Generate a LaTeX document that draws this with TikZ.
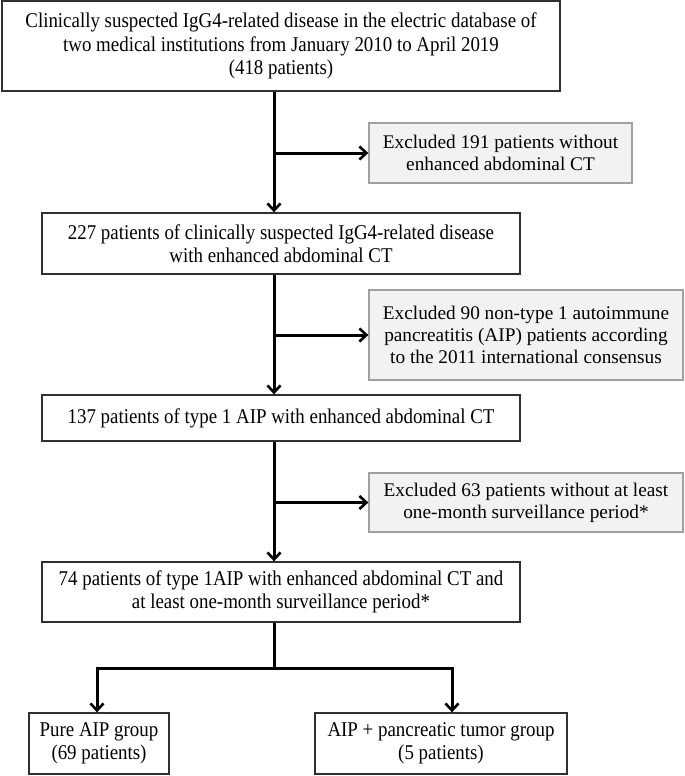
\documentclass[tikz,border=0pt]{standalone}
\usepackage{fontspec}
\setmainfont{Liberation Serif}
\newfontfamily\condfont{Liberation Serif}[FakeStretch=0.9]
\usetikzlibrary{arrows.meta}
\definecolor{greyfill}{HTML}{F2F2F2}
\definecolor{greyline}{HTML}{A0A0A0}
\definecolor{boxline}{HTML}{303030}
\begin{document}
\begin{tikzpicture}[x=1pt,y=-1pt,
  mainbox/.style={draw=boxline,line width=1.3pt,fill=white,align=center,inner sep=0pt,
    font=\condfont\fontsize{21}{23.2}\selectfont},
  exclbox/.style={draw=greyline,line width=1.3pt,fill=greyfill,align=center,inner sep=0pt,
    font=\fontsize{19.3}{22}\selectfont},
  flow/.style={line width=3pt,-{Straight Barb[length=7pt,width=13pt,line width=2.6pt]}},
  plain/.style={line width=3pt}]
\useasboundingbox (0,0) rectangle (685,776);
\coordinate (t) at (274,0);

\node[mainbox,minimum width=558pt,minimum height=90pt] (b1) at (281,46)
  {Clinically suspected IgG4-related disease in the electric database of\\
   two medical institutions from January 2010 to April 2019\\
   (418 patients)};
\node[exclbox,minimum width=263pt,minimum height=60pt] (g1) at (500.5,153)
  {Excluded 191 patients without\\enhanced abdominal CT};
\node[mainbox,minimum width=478pt,minimum height=61pt] (b2) at (281,243.5)
  {227 patients of clinically suspected IgG4-related disease\\
   with enhanced abdominal CT};
\node[exclbox,minimum width=314pt,minimum height=90pt] (g2) at (526,335)
  {Excluded 90 non-type 1 autoimmune\\
   pancreatitis (AIP) patients according\\
   to the 2011 international consensus};
\node[mainbox,minimum width=478pt,minimum height=46pt] (b3) at (281,418)
  {137 patients of type 1 AIP with enhanced abdominal CT};
\node[exclbox,minimum width=314pt,minimum height=59pt] (g3) at (526,502.5)
  {Excluded 63 patients without at least\\one-month surveillance period*};
\node[mainbox,minimum width=478pt,minimum height=60pt] (b4) at (281,592)
  {74 patients of type 1AIP with enhanced abdominal CT and\\
   at least one-month surveillance period*};
\node[mainbox,minimum width=140pt,minimum height=61pt] (p1) at (99,743.5)
  {Pure AIP group\\(69 patients)};
\node[mainbox,minimum width=252pt,minimum height=61pt] (p2) at (441,743.5)
  {AIP + pancreatic tumor group\\(5 patients)};

\draw[flow] (b1.south -| t) -- (b2.north -| t);
\draw[flow] (b2.south -| t) -- (b3.north -| t);
\draw[flow] (b3.south -| t) -- (b4.north -| t);
\draw[flow] (g1.west -| t) -- (g1.west);
\draw[flow] (g2.west -| t) -- (g2.west);
\draw[flow] (g3.west -| t) -- (g3.west);

\coordinate (s) at (274,668);
\coordinate (sl) at (97,668);
\coordinate (sr) at (452,668);
\draw[plain] (b4.south -| t) -- (s);
\draw[flow,line join=miter] (s) -- (sl) -- (sl |- p1.north);
\draw[flow,line join=miter] (s) -- (sr) -- (sr |- p2.north);
\end{tikzpicture}
\end{document}
